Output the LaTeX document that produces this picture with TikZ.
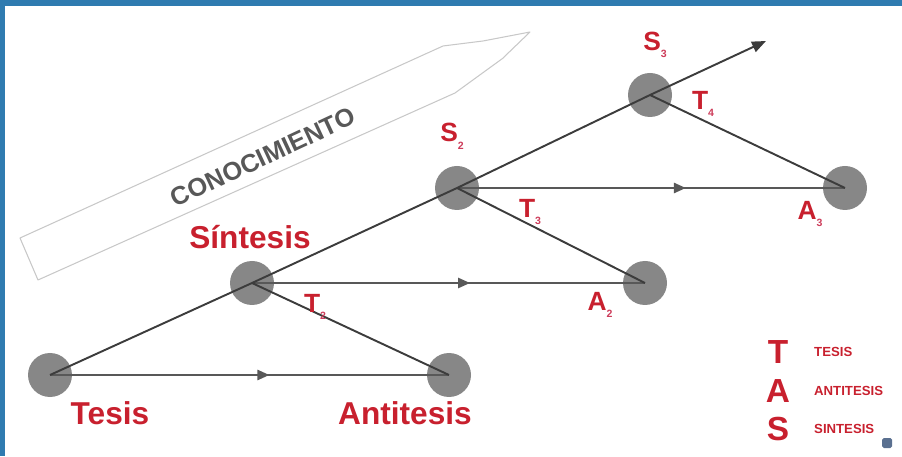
\documentclass[tikz,border=0pt]{standalone}
\usepackage{fontspec}
\setmainfont{Liberation Sans}
\usetikzlibrary{arrows.meta,decorations.markings}

\definecolor{framecol}{RGB}{47,123,176}
\definecolor{labred}{RGB}{200,32,46}
\definecolor{subred}{RGB}{205,60,90}
\definecolor{dotgray}{RGB}{135,135,135}
\definecolor{linegray}{RGB}{60,60,60}
\definecolor{flatgray}{RGB}{88,88,88}
\definecolor{shapegray}{RGB}{200,200,200}

% tiny lowered index
\newcommand{\lowidx}[1]{\raisebox{-0.55ex}{\textcolor{subred}{\fontsize{6}{6}\selectfont #1}}}

\begin{document}
\begin{tikzpicture}[
    dot/.style={fill=dotgray},
    rise/.style={draw=linegray, line width=1.1pt},
    flat/.style={draw=flatgray, line width=1.4pt, postaction={decorate},
      decoration={markings, mark=at position #1 with {\arrow{Triangle[length=0.24cm,width=0.2cm]}}}},
    biglbl/.style={text=labred, font=\bfseries\fontsize{18}{20}\selectfont},
    sublbl/.style={text=labred, font=\bfseries\fontsize{15}{17}\selectfont},
    keylbl/.style={text=labred, font=\bfseries\fontsize{19}{21}\selectfont},
    keytxt/.style={text=labred, font=\bfseries\fontsize{7.5}{8}\selectfont, anchor=west}
  ]

    % Fix the page size
    \useasboundingbox (0,0) rectangle (18.04,9.12);

    % Blue frame at the top and left
    \fill[framecol] (0,9.0) rectangle (18.04,9.12);
    \fill[framecol] (0,0) rectangle (0.1,9.12);

    % Define the coordinates
    \coordinate (T1) at (1.00, 1.62);    % Tesis
    \coordinate (A1) at (8.98, 1.62);    % Antitesis
    \coordinate (S1) at (5.04, 3.46);    % Sintesis
    \coordinate (A2) at (12.90, 3.46);   % second antithesis
    \coordinate (S2) at (9.14, 5.36);    % second synthesis
    \coordinate (A3) at (16.90, 5.36);   % third antithesis
    \coordinate (S3) at (13.00, 7.22);   % third synthesis
    \coordinate (E) at (15.32, 8.30);    % end of the main arrow

    % Knowledge arrow (outline)
    \draw[shapegray, line width=0.6pt, line join=round]
      (0.40,4.36) -- (8.86,8.20) -- (9.66,8.30) -- (10.60,8.48)
      -- (10.05,7.95) -- (9.10,7.26) -- (0.76,3.52) -- cycle;
    \node[rotate=25, text=flatgray, font=\bfseries\fontsize{14.5}{16}\selectfont] (know) at (5.26,5.98) {CONOCIMIENTO};

    % Grey dots
    \foreach \p in {T1,A1,S1,A2,S2,A3,S3}
      \fill[dot] (\p) circle (0.44);

    % Horizontal arrows
    \draw[flat=0.55] (T1) -- (A1);
    \draw[flat=0.555] (S1) -- (A2);
    \draw[flat=0.59] (S2) -- (A3);

    % Antithesis back to synthesis
    \draw[rise] (A1) -- (S1);
    \draw[rise] (A2) -- (S2);
    \draw[rise] (A3) -- (S3);

    % Main rising line
    \draw[rise, -{Triangle[length=0.28cm,width=0.22cm]}] (T1) -- (S1) -- (S2) -- (S3) -- (E);

    % Label the points
    \node[biglbl] (lblT1) at (2.20, 0.86) {Tesis};
    \node[biglbl] (lblA1) at (8.10, 0.86) {Antitesis};
    \node[biglbl] (lblS1) at (5.00, 4.38) {Síntesis};
    \node[sublbl] (lblS2) at (9.04, 6.40) {S\lowidx{2}};
    \node[sublbl] (lblS3) at (13.10, 8.22) {S\lowidx{3}};
    \node[sublbl] (lblA2) at (12.00, 3.02) {A\lowidx{2}};
    \node[sublbl] (lblA3) at (16.20, 4.84) {A\lowidx{3}};
    \node[sublbl] (lblT2) at (6.30, 2.98) {T\lowidx{2}};
    \node[sublbl] (lblT3) at (10.60, 4.88) {T\lowidx{3}};
    \node[sublbl] (lblT4) at (14.06, 7.04) {T\lowidx{4}};

    % Key
    \node[keylbl] (keyT) at (15.56, 2.08) {T};
    \node[keylbl] (keyA) at (15.56, 1.30) {A};
    \node[keylbl] (keyS) at (15.56, 0.54) {S};
    \node[keytxt] (txtT) at (16.16, 2.08) {TESIS};
    \node[keytxt] (txtA) at (16.16, 1.30) {ANTITESIS};
    \node[keytxt] (txtS) at (16.16, 0.54) {SINTESIS};

    % Small mark in the corner
    \fill[rounded corners=1pt, fill={rgb,255:red,90;green,112;blue,144}] (17.64,0.16) rectangle (17.84,0.36);

\end{tikzpicture}
\end{document}
